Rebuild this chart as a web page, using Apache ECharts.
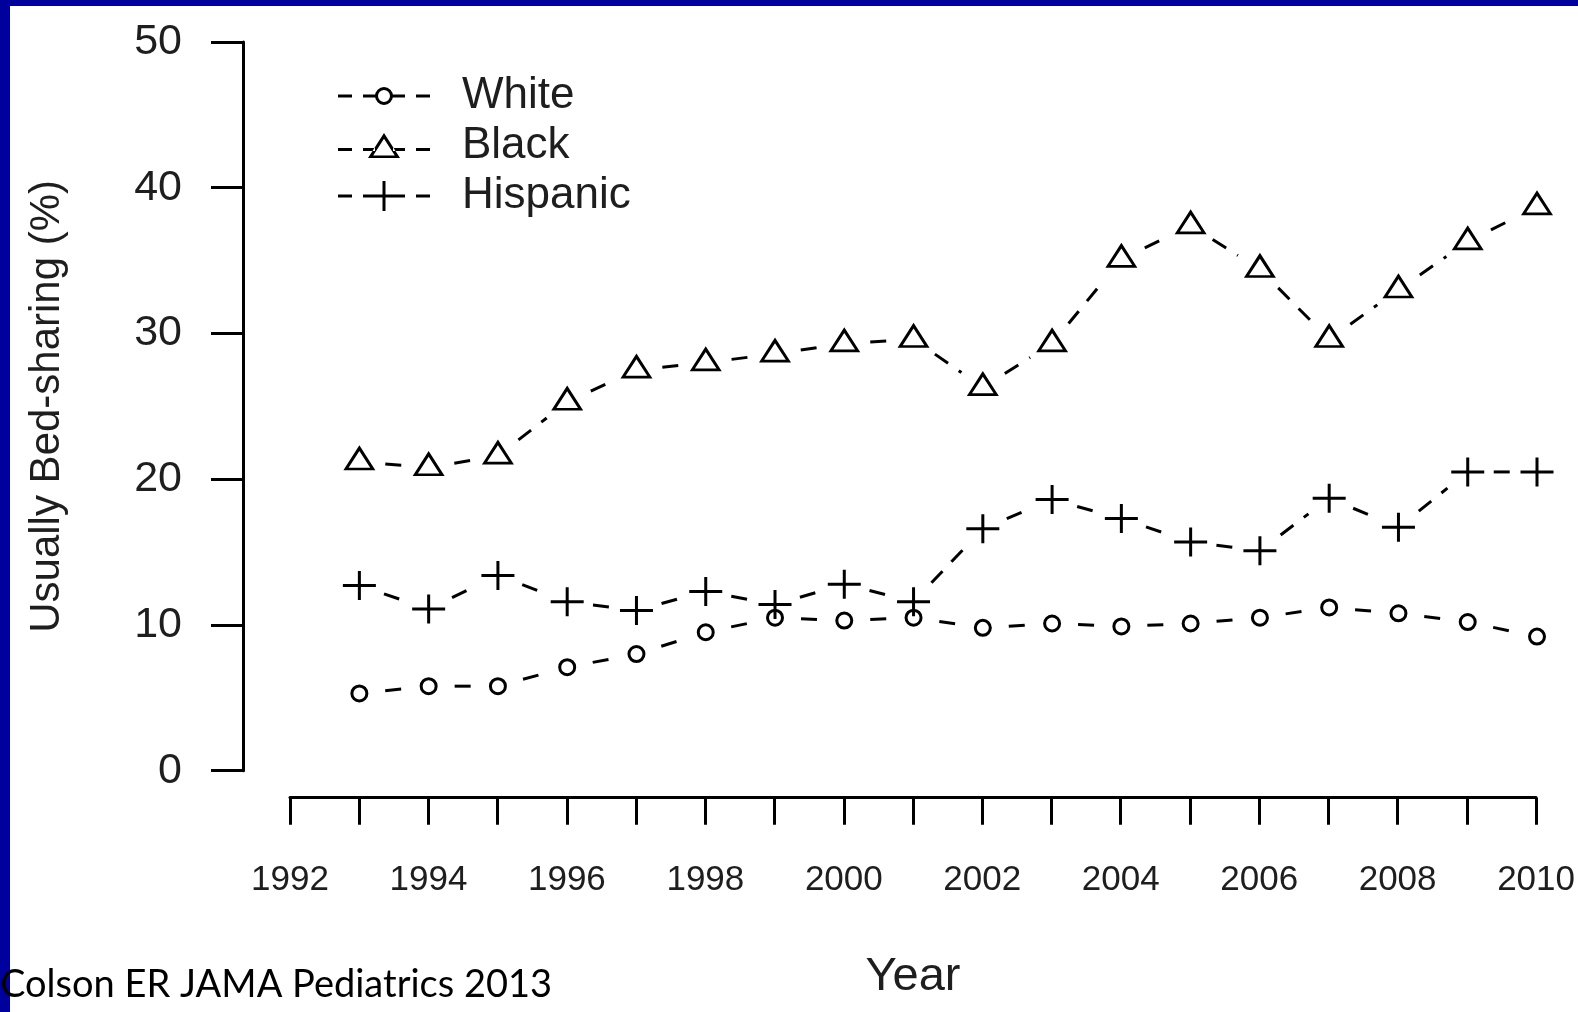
<!DOCTYPE html>
<html><head><meta charset="utf-8">
<script src="https://cdn.jsdelivr.net/npm/echarts@6/dist/echarts.min.js"></script>
<style>html,body{margin:0;padding:0;background:#fff;}#c{width:1578px;height:1012px;}</style>
</head><body><div id="c"></div>
<script>
const years = [1993,1994,1995,1996,1997,1998,1999,2000,2001,2002,2003,2004,2005,2006,2007,2008,2009,2010];
const white = [5.3,5.8,5.8,7.1,8.0,9.5,10.5,10.3,10.5,9.8,10.1,9.9,10.1,10.5,11.2,10.8,10.2,9.2];
const black = [21.2,20.8,21.6,25.3,27.5,28.0,28.6,29.3,29.6,26.3,29.3,35.1,37.4,34.4,29.6,33.0,36.3,38.7];
const hispanic = [12.7,11.1,13.4,11.6,11.0,12.3,11.4,12.8,11.6,16.6,18.6,17.3,15.7,15.1,18.7,16.7,20.5,20.5];
const yTickValues = [0,10,20,30,40,50];
const xTickLabels = ['1992','1994','1996','1998','2000','2002','2004','2006','2008','2010'];
const seriesNames = ['White','Black','Hispanic'];

const FONT = 'Liberation Sans, Arial, sans-serif';
const TXT = '#1e1e1e';

function segs(vals){
  return years.slice(0,-1).map((y,i)=>[y, vals[i], years[i+1], vals[i+1]]);
}
function renderSeg(params, api){
  const a = api.coord([api.value(0), api.value(1)]);
  const b = api.coord([api.value(2), api.value(3)]);
  const dx=b[0]-a[0], dy=b[1]-a[1], L=Math.hypot(dx,dy);
  const g=26;
  if (L<=2*g) return null;
  const ux=dx/L, uy=dy/L;
  return {type:'line', silent:true,
    shape:{x1:a[0]+ux*g, y1:a[1]+uy*g, x2:b[0]-ux*g, y2:b[1]-uy*g},
    style:{stroke:'#000', lineWidth:3, lineDash:[16,13], fill:null}};
}

const triPath = 'path://M0 25 L32 25 L16 0 Z M5.2 22.4 L16 5.8 L26.8 22.4 Z';
const plusPath = 'path://M0 13 L33 13 L33 16 L0 16 Z M15 0 L18 0 L18 29 L15 29 Z';

const iconWhite = 'path://M0 13.5 L14 13.5 L14 16.5 L0 16.5 Z M25 13.5 L37.2 13.5 L37.2 16.5 L25 16.5 Z M37 15 A9 9 0 1 1 55 15 A9 9 0 1 1 37 15 Z M40 15 A6 6 0 1 0 52 15 A6 6 0 1 0 40 15 Z M54.8 13.5 L67 13.5 L67 16.5 L54.8 16.5 Z M78 13.5 L92 13.5 L92 16.5 L78 16.5 Z M46 0 L46.01 0 L46.01 0.01 Z M46 30 L46.01 30 L46.01 29.99 Z';
const iconBlack = 'path://M0 17 L14 17 L14 20 L0 20 Z M25 17 L37 17 L37 20 L25 20 Z M30 27 L62 27 L46 2 Z M35.2 24.4 L46 7.8 L56.8 24.4 Z M55 17 L67 17 L67 20 L55 20 Z M78 17 L92 17 L92 20 L78 20 Z M46 0 L46.01 0 L46.01 0.01 Z M46 30 L46.01 30 L46.01 29.99 Z';
const iconHisp = 'path://M0 13.5 L14 13.5 L14 16.5 L0 16.5 Z M25 13.5 L67 13.5 L67 16.5 L25 16.5 Z M44.5 0 L47.5 0 L47.5 30 L44.5 30 Z M78 13.5 L92 13.5 L92 16.5 L78 16.5 Z';

const chart = echarts.init(document.getElementById('c'), null, {renderer:'canvas'});
chart.setOption({
  backgroundColor:'#fff',
  animation:false,
  graphic:[
    {type:'rect', z:100, shape:{x:0,y:0,width:1578,height:6}, style:{fill:'#00009c'}},
    {type:'rect', z:100, shape:{x:0,y:0,width:10,height:1012}, style:{fill:'#00009c'}},
    {type:'text', z:101, left:0, top:966, style:{text:'Colson ER JAMA Pediatrics 2013', fontSize:38, fontFamily:'Lato, sans-serif', fill:'#000'}}
  ],
  grid:[
    {left:243, top:42, width:1294, height:728.7},
    {left:290, top:42, width:1247, height:755.7}
  ],
  legend:{
    orient:'vertical', left:333, top:69, itemWidth:92, itemHeight:30, itemGap:6,
    selectedMode:false,
    textStyle:{fontSize:44, fontFamily:FONT, color:TXT, padding:[0,0,0,27], lineHeight:44},
    data:[
      {name:'White', icon:iconWhite, itemStyle:{color:'#000', borderWidth:0}},
      {name:'Black', icon:iconBlack, itemStyle:{color:'#000', borderWidth:0}},
      {name:'Hispanic', icon:iconHisp, itemStyle:{color:'#000', borderWidth:0}}
    ]
  },
  xAxis:[
    {gridIndex:0, type:'value', min:1991.32, max:2010, show:false},
    {gridIndex:1, type:'value', min:1992, max:2010, interval:1,
      axisLine:{show:true, lineStyle:{color:'#000', width:3}},
      axisTick:{show:true, length:27, lineStyle:{color:'#000', width:3}},
      axisLabel:{fontSize:35, fontFamily:FONT, color:TXT, margin:65,
        formatter:v=> xTickLabels.includes(String(v)) ? String(v) : ''},
      splitLine:{show:false},
      name:'Year', nameLocation:'middle', nameGap:156,
      nameTextStyle:{fontSize:47, fontFamily:FONT, color:TXT}}
  ],
  yAxis:[
    {gridIndex:0, type:'value', min:0, max:50, interval:10,
      axisLine:{show:true, lineStyle:{color:'#000', width:3}},
      axisTick:{show:true, length:32, lineStyle:{color:'#000', width:3}},
      axisLabel:{fontSize:43, fontFamily:FONT, color:TXT, margin:61,
        formatter:v=> yTickValues.includes(v) ? String(v) : ''},
      splitLine:{show:false},
      name:'Usually Bed-sharing (%)', nameLocation:'middle', nameGap:175, nameRotate:90,
      nameTextStyle:{fontSize:42, fontFamily:FONT, color:TXT}},
    {gridIndex:1, type:'value', min:0, max:1, show:false}
  ],
  series:[
    {type:'custom', name:'White segments', xAxisIndex:0, yAxisIndex:0, data:segs(white), renderItem:renderSeg, encode:{x:[0,2], y:[1,3]}, silent:true},
    {type:'custom', name:'Black segments', xAxisIndex:0, yAxisIndex:0, data:segs(black), renderItem:renderSeg, encode:{x:[0,2], y:[1,3]}, silent:true},
    {type:'custom', name:'Hispanic segments', xAxisIndex:0, yAxisIndex:0, data:segs(hispanic), renderItem:renderSeg, encode:{x:[0,2], y:[1,3]}, silent:true},
    {type:'scatter', name:seriesNames[0], xAxisIndex:0, yAxisIndex:0, data:years.map((y,i)=>[y, white[i]]),
      symbol:'circle', symbolSize:15, itemStyle:{color:'#fff', borderColor:'#000', borderWidth:3, opacity:1}},
    {type:'scatter', name:seriesNames[1], xAxisIndex:0, yAxisIndex:0, data:years.map((y,i)=>[y, black[i]]),
      symbol:triPath, symbolSize:[32,25], symbolOffset:[0,-4], itemStyle:{color:'#000', opacity:1}},
    {type:'scatter', name:seriesNames[2], xAxisIndex:0, yAxisIndex:0, data:years.map((y,i)=>[y, hispanic[i]]),
      symbol:plusPath, symbolSize:[33,29], itemStyle:{color:'#000', opacity:1}}
  ]
});
</script>
</body></html>
